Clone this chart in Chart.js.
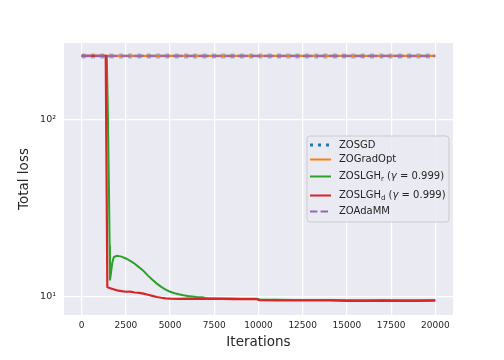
<!DOCTYPE html>
<html>
<head>
<meta charset="utf-8">
<script src="https://cdn.jsdelivr.net/npm/chart.js@4/dist/chart.umd.min.js"></script>
<style>
  html, body { margin: 0; padding: 0; background: #ffffff; }
  canvas { display: block; }
</style>
</head>
<body>
<canvas id="c" width="504" height="360"></canvas>
<script>
// ---------- data ----------
const iterTicks = [0, 2500, 5000, 7500, 10000, 12500, 15000, 17500, 20000];
const yTickValues = [10, 100];
const yTickLabels = ['10\u00B9', '10\u00B2'];

const flatIters = [0, 20000];
const zosgd = [230, 230];
const zogradopt = [230, 230];
const zoadamm = [230, 230];

const itersR = [0, 1420, 1480, 1540, 1580, 1600, 1650, 1730, 1820, 2000, 2250, 2500, 2750, 3000, 3250, 3500, 3750, 4000, 4250, 4500, 4750, 5000, 5250, 5500, 5750, 6000, 6500, 6800, 7000, 7500, 8000, 8500, 9000, 9500, 9900, 10100, 11000, 12000, 13000, 14000, 15000, 16000, 17000, 18000, 19000, 20000];
const lghR = [230, 230, 110, 42, 19.5, 12.4, 13.5, 15.6, 16.8, 17.1, 16.9, 16.5, 16.0, 15.4, 14.7, 14.0, 13.2, 12.5, 11.9, 11.4, 11.0, 10.7, 10.5, 10.35, 10.22, 10.12, 10.0, 9.97, 9.86, 9.83, 9.8, 9.8, 9.78, 9.77, 9.76, 9.64, 9.63, 9.62, 9.61, 9.6, 9.58, 9.58, 9.6, 9.57, 9.59, 9.6];

const itersD = [0, 1360, 1450, 1500, 1750, 2000, 2250, 2500, 2750, 3000, 3250, 3500, 3750, 4000, 4250, 4500, 4750, 5000, 5500, 6000, 6500, 7000, 7500, 8000, 8500, 9000, 9500, 9900, 10050, 11000, 12000, 13000, 14000, 15000, 16000, 17000, 18000, 19000, 20000];
const lghD = [230, 230, 11.4, 11.3, 11.1, 10.9, 10.8, 10.7, 10.72, 10.6, 10.55, 10.45, 10.3, 10.15, 10.0, 9.9, 9.82, 9.78, 9.76, 9.78, 9.75, 9.77, 9.74, 9.75, 9.73, 9.74, 9.72, 9.72, 9.58, 9.56, 9.57, 9.55, 9.56, 9.5, 9.5, 9.49, 9.5, 9.5, 9.52];

const seriesNames = ['ZOSGD', 'ZOGradOpt', 'ZOSLGHr', 'ZOSLGHd', 'ZOAdaMM'];

// ---------- helpers ----------
const pts = (xs, ys) => xs.map((x, i) => ({ x: x, y: ys[i] }));
const TXT = '#262626';
const FONT = 'DejaVu Sans';

const C_BLUE = '#1f77b4', C_ORANGE = '#ff7f0e', C_GREEN = '#2ca02c', C_RED = '#d62728', C_PURPLE = '#9467bd';

const bgPlugin = {
  id: 'bg',
  beforeDraw(chart) {
    const { ctx, chartArea: a } = chart;
    ctx.save();
    ctx.fillStyle = '#EAEAF2';
    ctx.fillRect(a.left, a.top, a.right - a.left, a.bottom - a.top);
    ctx.restore();
  }
};

const legendEntries = [
  { parts: [{ t: 'ZOSGD' }], color: C_BLUE, width: 3, dash: [3, 5], cap: 'butt', dy: 0 },
  { parts: [{ t: 'ZOGradOpt' }], color: C_ORANGE, width: 2, dash: [], dy: 0 },
  { parts: [{ t: 'ZOSLGH' }, { t: 'r', sub: true }, { t: ' (' }, { t: '\u03B3', it: true }, { t: ' = 0.999)' }], color: C_GREEN, width: 2, dash: [], dy: 0 },
  { parts: [{ t: 'ZOSLGH' }, { t: 'd', sub: true }, { t: ' (' }, { t: '\u03B3', it: true }, { t: ' = 0.999)' }], color: C_RED, width: 2, dash: [], dy: 0 },
  { parts: [{ t: 'ZOAdaMM' }], color: C_PURPLE, width: 2, dash: [7.4, 3.2], dy: 0 }
];
const legendYs = [145, 159.5, 176.5, 195.5, 211.5];

const legendPlugin = {
  id: 'customLegend',
  afterDraw(chart) {
    const { ctx, chartArea: a } = chart;
    const boxW = 142, boxH = 86;
    const bx = a.right - 4 - boxW;
    const by = (a.top + a.bottom) / 2 - boxH / 2;
    ctx.save();
    // box
    const r = 3;
    ctx.beginPath();
    ctx.moveTo(bx + r, by);
    ctx.lineTo(bx + boxW - r, by);
    ctx.arcTo(bx + boxW, by, bx + boxW, by + r, r);
    ctx.lineTo(bx + boxW, by + boxH - r);
    ctx.arcTo(bx + boxW, by + boxH, bx + boxW - r, by + boxH, r);
    ctx.lineTo(bx + r, by + boxH);
    ctx.arcTo(bx, by + boxH, bx, by + boxH - r, r);
    ctx.lineTo(bx, by + r);
    ctx.arcTo(bx, by, bx + r, by, r);
    ctx.closePath();
    ctx.fillStyle = 'rgba(234,234,242,0.85)';
    ctx.fill();
    ctx.strokeStyle = '#cccccc';
    ctx.lineWidth = 1;
    ctx.stroke();

    legendEntries.forEach((e, i) => {
      const y = legendYs[i] - 179 + (a.top + a.bottom) / 2;
      const x0 = bx + 3, x1 = bx + 24;
      ctx.beginPath();
      ctx.setLineDash(e.dash);
      ctx.lineCap = e.cap || 'butt';
      ctx.strokeStyle = e.color;
      ctx.lineWidth = e.width;
      ctx.moveTo(x0, y);
      ctx.lineTo(x1, y);
      ctx.stroke();
      ctx.setLineDash([]);
      // text
      let tx = bx + 32;
      ctx.fillStyle = TXT;
      ctx.textBaseline = 'middle';
      ctx.textAlign = 'left';
      e.parts.forEach(p => {
        if (p.sub) {
          ctx.font = '7px "' + FONT + '"';
          ctx.fillText(p.t, tx, y + 3);
        } else if (p.it) {
          ctx.font = 'italic 10px "' + FONT + '"';
          ctx.fillText(p.t, tx, y);
        } else {
          ctx.font = '10px "' + FONT + '"';
          ctx.fillText(p.t, tx, y);
        }
        tx += ctx.measureText(p.t).width;
      });
    });
    ctx.restore();
  }
};

const ctx = document.getElementById('c').getContext('2d');
new Chart(ctx, {
  type: 'line',
  data: {
    datasets: [
      { label: seriesNames[0], data: pts(flatIters, zosgd), borderColor: 'rgba(31,119,180,0.45)', borderWidth: 5, borderDash: [4, 5.3], order: 5 },
      { label: seriesNames[1], data: pts(flatIters, zogradopt), borderColor: C_ORANGE, borderWidth: 2.2, order: 4 },
      { label: seriesNames[2], data: pts(itersR, lghR), borderColor: C_GREEN, borderWidth: 2, order: 3 },
      { label: seriesNames[3], data: pts(itersD, lghD), borderColor: C_RED, borderWidth: 2.2, order: 2 },
      { label: seriesNames[4], data: pts(flatIters, zoadamm), borderColor: 'rgba(148,103,189,0.85)', borderWidth: 2.5, borderDash: [10, 3], order: 1 }
    ]
  },
  options: {
    responsive: false,
    animation: false,
    devicePixelRatio: 1,
    parsing: true,
    layout: { padding: { left: 16, top: 43, right: 51, bottom: 0 } },
    elements: { point: { radius: 0 }, line: { tension: 0, fill: false, borderCapStyle: 'butt' } },
    plugins: { legend: { display: false }, tooltip: { enabled: false } },
    scales: {
      x: {
        type: 'linear',
        min: -1000,
        max: 21000,
        afterBuildTicks: s => { s.ticks = iterTicks.map(v => ({ value: v })); },
        afterFit: s => { s.height = 45; },
        ticks: {
          autoSkip: false, maxRotation: 0, padding: 5, color: TXT,
          font: { family: FONT, size: 9 },
          callback: v => String(v)
        },
        grid: { color: '#ffffff', lineWidth: 1.2, drawTicks: false },
        border: { display: false },
        title: { display: true, text: 'Iterations', color: TXT, font: { family: FONT, size: 13.5 }, padding: { top: 0, bottom: 9 } }
      },
      y: {
        type: 'logarithmic',
        min: 7.91,
        max: 272,
        afterBuildTicks: s => { s.ticks = yTickValues.map(v => ({ value: v })); },
        afterFit: s => { s.width = 48; },
        ticks: {
          autoSkip: false, padding: 8, color: TXT,
          font: { family: FONT, size: 9.5 },
          callback: (v, i) => yTickLabels[i]
        },
        grid: { color: '#ffffff', lineWidth: 1.2, drawTicks: false },
        border: { display: false },
        title: { display: true, text: 'Total loss', color: TXT, font: { family: FONT, size: 13.5 }, padding: { top: 0, bottom: 0 } }
      }
    }
  },
  plugins: [bgPlugin, legendPlugin]
});
</script>
</body>
</html>
